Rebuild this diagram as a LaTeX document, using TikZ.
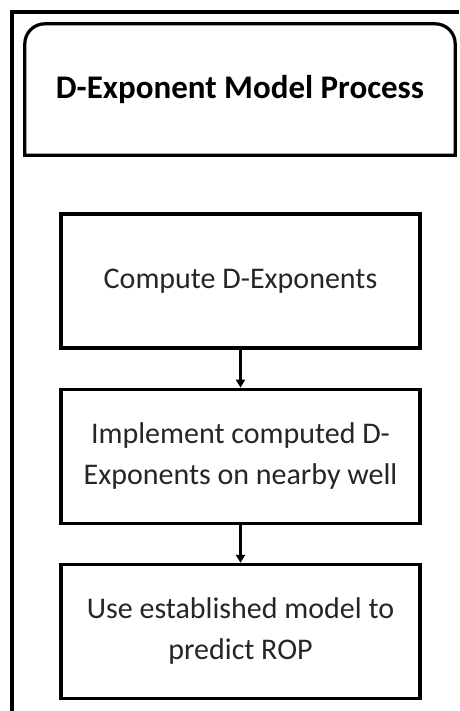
\documentclass[tikz,border=0pt]{standalone}
\usepackage{fontspec}
\setmainfont{Carlito}
\usetikzlibrary{positioning,arrows.meta}
\tikzset{process box/.style={draw,line width=3.2pt,minimum width=359pt,minimum height=134pt,inner sep=0pt,align=center,text=black!85,font=\fontsize{30}{41}\selectfont},
         title box/.style={minimum width=430pt,minimum height=131pt,inner sep=0pt,font=\fontsize{33}{40}\selectfont\bfseries},
         flow arrow/.style={-{Triangle[length=8pt,width=9pt]},line width=2.4pt},
            }

\begin{document}
\begin{tikzpicture}
    \useasboundingbox (0pt,0pt) rectangle (459pt,-711pt);
    \fill[white] (0pt,0pt) rectangle (459pt,-711pt);
    % outer frame
    \draw[line width=4.5pt] (12pt,-711pt) -- (12pt,-12pt) -- (459pt,-12pt);

    \node[title box] (title) at (240pt,-89.5pt) {\raisebox{-4pt}{D-Exponent Model Process}};
    \draw[line width=3.2pt] (title.south west) -- ([yshift=-20pt]title.north west)
        arc[start angle=180,end angle=90,radius=20pt] -- ([xshift=-20pt]title.north east)
        arc[start angle=90,end angle=0,radius=20pt] -- (title.south east) -- cycle;

    \node[process box] (compute) at (240.5pt,-281pt) {Compute D-Exponents};
    \node[process box] (implement) [below = 38pt of compute] {Implement computed D-\\Exponents on nearby well};
    \node[process box] (predict) [below = 38pt of implement] {Use established model to\\predict ROP};

    \path[draw,flow arrow]
    (compute) edge (implement)
    (implement) edge (predict);
    %%
\end{tikzpicture}
\end{document}
